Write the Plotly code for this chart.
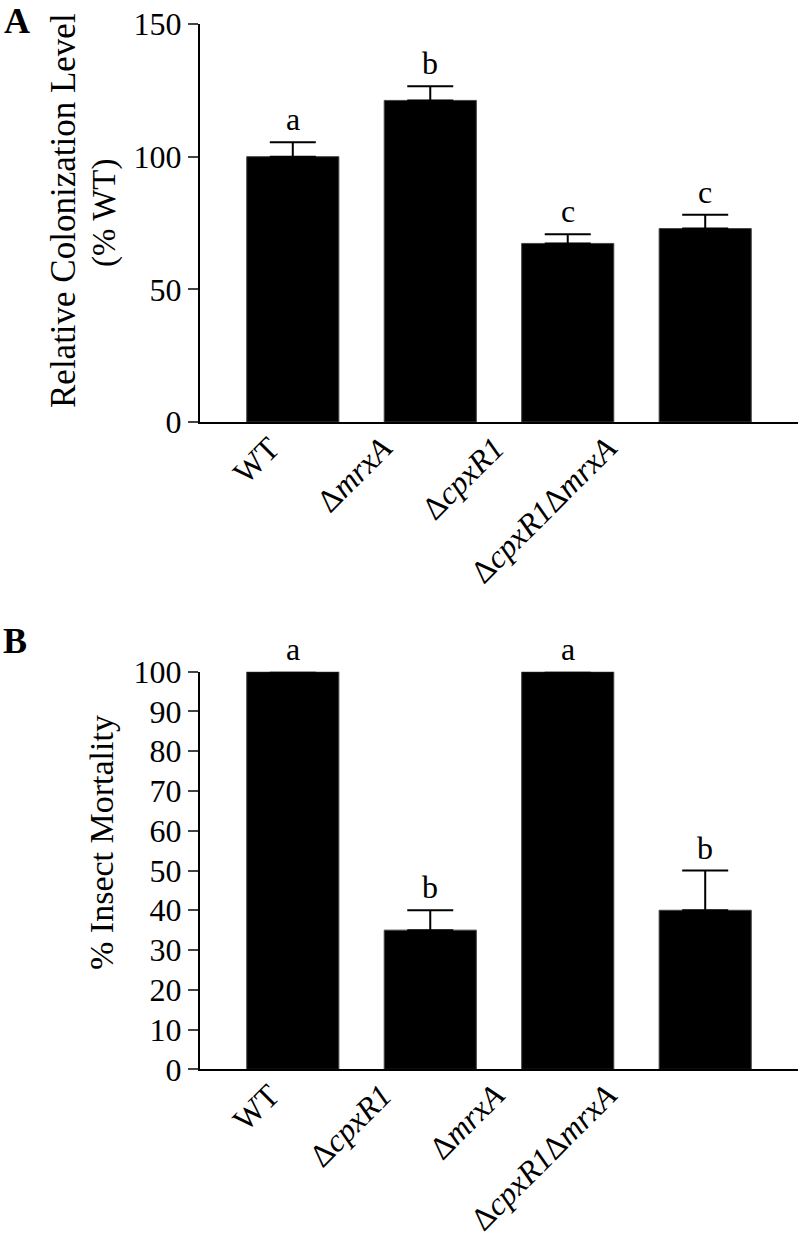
import plotly.graph_objects as go

# Panel A data
cats_a = ["WT", "Δ<i>mrxA</i>", "Δ<i>cpxR1</i>", "Δ<i>cpxR1</i>Δ<i>mrxA</i>"]
vals_a = [100, 121.2, 67.3, 72.9]
err_a = [5.4, 5.3, 3.5, 5.2]
letters_a = ["a", "b", "c", "c"]

# Panel B data
cats_b = ["WT", "Δ<i>cpxR1</i>", "Δ<i>mrxA</i>", "Δ<i>cpxR1</i>Δ<i>mrxA</i>"]
vals_b = [100, 35, 100, 40]
err_b = [0, 5, 0, 10]
letters_b = ["a", "b", "a", "b"]

W, H = 800, 1238
FONT = "Liberation Serif, Times New Roman, serif"

def px(x, y):
    return x / W, 1 - y / H

idx = list(range(len(cats_a)))

fig = go.Figure()

fig.add_trace(go.Bar(
    x=idx, y=vals_a, xaxis="x", yaxis="y",
    marker=dict(color="black", line=dict(color="#444", width=1)),
    error_y=dict(type="data", array=err_a, arrayminus=[0]*4, symmetric=False,
                 color="black", thickness=2, width=23),
    showlegend=False, hoverinfo="skip"))

fig.add_trace(go.Bar(
    x=idx, y=vals_b, xaxis="x2", yaxis="y2",
    marker=dict(color="black", line=dict(color="#444", width=1)),
    error_y=dict(type="data", array=err_b, arrayminus=[0]*4, symmetric=False,
                 color="black", thickness=2, width=23),
    showlegend=False, hoverinfo="skip"))

# invisible traces carrying the category label axes
fig.add_trace(go.Scatter(x=idx, y=[0]*4, xaxis="x3", yaxis="y", mode="markers",
                         marker=dict(opacity=0), showlegend=False, hoverinfo="skip"))
fig.add_trace(go.Scatter(x=idx, y=[0]*4, xaxis="x4", yaxis="y2", mode="markers",
                         marker=dict(opacity=0), showlegend=False, hoverinfo="skip"))

xd0, _ = px(200, 0)
xd1, _ = px(798, 0)
_, ya0 = px(0, 422)
_, ya1 = px(0, 24)
_, yb0 = px(0, 1069.3)
_, yb1 = px(0, 671.7)

axis_common = dict(showgrid=False, zeroline=False, showline=True, linecolor="black",
                   linewidth=2, tickfont=dict(family=FONT, size=32, color="black"))
label_font = dict(family=FONT, size=32, color="black")
lab_range = [-0.623, 4.700]

fig.update_layout(
    width=W, height=H,
    margin=dict(l=0, r=0, t=0, b=0),
    paper_bgcolor="white", plot_bgcolor="white",
    bargap=0.33,
    font=dict(family=FONT, color="black"),
    xaxis=dict(domain=[xd0, xd1], anchor="y", range=[-0.675, 3.675],
               ticks="", showticklabels=False, automargin=False, **axis_common),
    yaxis=dict(domain=[ya0, ya1], anchor="x", range=[0, 150],
               tickvals=[0, 50, 100, 150], ticks="outside", ticklen=10, tickwidth=2,
               automargin=False, **axis_common),
    xaxis2=dict(domain=[xd0, xd1], anchor="y2", range=[-0.675, 3.675],
                ticks="", showticklabels=False, automargin=False, **axis_common),
    yaxis2=dict(domain=[yb0, yb1], anchor="x2", range=[0, 100],
                tickvals=list(range(0, 101, 10)), ticks="outside", ticklen=10, tickwidth=2,
                automargin=False, **axis_common),
    xaxis3=dict(domain=[xd0, xd1], anchor="y", overlaying="x", range=lab_range,
                tickvals=idx, ticktext=cats_a, tickangle=-45, ticks="", showline=False,
                showgrid=False, zeroline=False, tickfont=label_font, automargin=False),
    xaxis4=dict(domain=[xd0, xd1], anchor="y2", overlaying="x2", range=lab_range,
                tickvals=idx, ticktext=cats_b, tickangle=-45, ticks="", showline=False,
                showgrid=False, zeroline=False, tickfont=label_font, automargin=False),
)

anns = []
for i, v, e, l in zip(idx, vals_a, err_a, letters_a):
    anns.append(dict(x=i, y=v + e, xref="x", yref="y", text=l, showarrow=False,
                     yanchor="bottom", yshift=3, font=dict(family=FONT, size=32, color="black")))
for i, v, e, l in zip(idx, vals_b, err_b, letters_b):
    anns.append(dict(x=i, y=v + e, xref="x2", yref="y2", text=l, showarrow=False,
                     yanchor="bottom", yshift=3, font=dict(family=FONT, size=32, color="black")))

# axis titles
tx, ty = px(64, 211)
anns.append(dict(x=tx, y=ty, xref="paper", yref="paper", text="Relative Colonization Level",
                 textangle=-90, showarrow=False, xanchor="center", yanchor="middle",
                 font=dict(family=FONT, size=35, color="black")))
tx, ty = px(104, 213)
anns.append(dict(x=tx, y=ty, xref="paper", yref="paper", text="(% WT)",
                 textangle=-90, showarrow=False, xanchor="center", yanchor="middle",
                 font=dict(family=FONT, size=33, color="black")))
tx, ty = px(101, 843)
anns.append(dict(x=tx, y=ty, xref="paper", yref="paper", text="% Insect Mortality",
                 textangle=-90, showarrow=False, xanchor="center", yanchor="middle",
                 font=dict(family=FONT, size=34, color="black")))
# panel letters
tx, ty = px(17, 21)
anns.append(dict(x=tx, y=ty, xref="paper", yref="paper", text="<b>A</b>", showarrow=False,
                 xanchor="center", yanchor="middle", font=dict(family=FONT, size=36, color="black")))
tx, ty = px(15, 641)
anns.append(dict(x=tx, y=ty, xref="paper", yref="paper", text="<b>B</b>", showarrow=False,
                 xanchor="center", yanchor="middle", font=dict(family=FONT, size=36, color="black")))

fig.update_layout(annotations=anns)
fig.write_html("out.html", config={"displayModeBar": False},
               post_script="document.body.style.margin='0';")
